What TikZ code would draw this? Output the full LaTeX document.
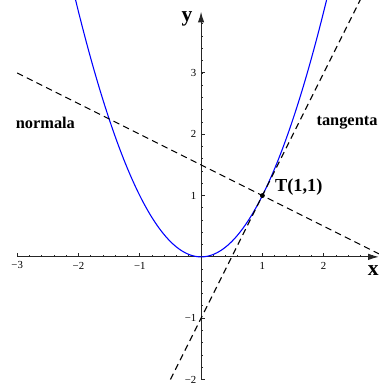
\documentclass[tikz,border=0pt]{standalone}
\usepackage{fontspec}
\setmainfont{Liberation Serif}
\usetikzlibrary{arrows.meta}
\begin{document}
\begin{tikzpicture}[x=1cm,y=1cm,
  axis/.style={line width=0.5pt,black!85,-{Latex[length=5pt,width=3pt]}},
  ticklab/.style={font=\fontsize{5}{6}\selectfont,inner sep=0pt},
  curve/.style={blue,line width=0.5pt},
  dline/.style={black,line width=0.5pt,dash pattern=on 3pt off 2pt},
  lab/.style={font=\fontsize{8.5}{10}\selectfont\bfseries,inner sep=0pt},
  sidelab/.style={font=\fontsize{7.6}{9}\selectfont\bfseries,inner sep=0pt},
  axlab/.style={font=\fontsize{10}{12}\selectfont\bfseries,inner sep=0pt}]
\useasboundingbox (-3.28,-2.09) rectangle (2.90,4.19);
\begin{scope}
\clip (-3.28,-2.09) rectangle (2.90,4.19);
% minor ticks
\foreach \t in {-3,-2.8,...,2.85} \draw[black!85,line width=0.4pt] (\t,0) -- (\t,0.035);
\foreach \t in {-2,-1.8,...,3.85} \draw[black!85,line width=0.4pt] (0,\t) -- (0.035,\t);
\foreach \t in {-3,...,2} \draw[black!85,line width=0.5pt] (\t,0) -- (\t,0.07);
\foreach \t in {-2,...,3} \draw[black!85,line width=0.5pt] (0,\t) -- (0.07,\t);
\draw[axis] (-3,0) coordinate (xs) -- (2.9,0) coordinate (xe);
\draw[axis] (0,-2) coordinate (ys) -- (0,4.0) coordinate (ye);
% curves
\draw[curve] plot[domain=-2.06:2.06,samples=120,smooth] (\x,{\x*\x});
\draw[dline] (-0.5,-2) -- (2.6,4.2);
\draw[dline] (-3,3) -- (2.9,0.05);
\end{scope}
% tick labels
\node[ticklab] at (-3,-0.14) {−3};
\node[ticklab] at (-2,-0.14) {−2};
\node[ticklab] at (-1,-0.14) {−1};
\node[ticklab] at (1,-0.14) {1};
\node[ticklab] at (2,-0.14) {2};
\node[ticklab,anchor=east] at (-0.07,-2) {−2};
\node[ticklab,anchor=east] at (-0.07,-1) {−1};
\node[ticklab,anchor=east] at (-0.07,1) {1};
\node[ticklab,anchor=east] at (-0.07,2) {2};
\node[ticklab,anchor=east] at (-0.07,3) {3};
\node[axlab] (xl) at (2.81,-0.22) {x};
\node[axlab] (yl) at (-0.23,3.88) {y};
\node[sidelab] (nl) at (-2.54,2.19) {normala};
\node[sidelab,anchor=east] (tl) at (2.885,2.19) {tangenta};
\fill (1,1) circle (0.04) coordinate (T);
\node[lab,anchor=west] (Tl) at (1.2,1.14) {T(1,1)};
\end{tikzpicture}
\end{document}
